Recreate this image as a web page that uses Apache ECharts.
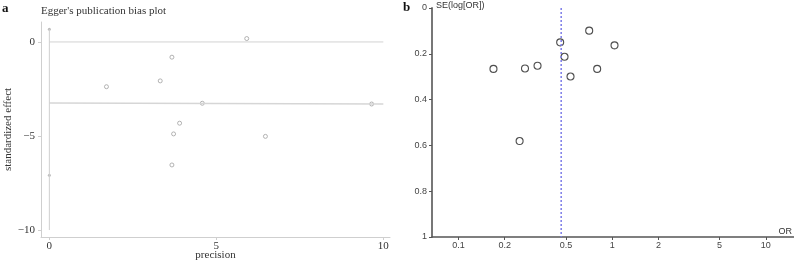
<!DOCTYPE html>
<html>
<head>
<meta charset="utf-8">
<script src="https://cdn.jsdelivr.net/npm/echarts@6/dist/echarts.min.js"></script>
<style>
  html, body { margin: 0; padding: 0; background: #fff; }
  #chart { width: 794px; height: 261px; }
</style>
</head>
<body>
<div id="chart"></div>
<script>
// panel a: Egger's plot (precision vs standardized effect)
var eggerPrecision = [5.91, 3.67, 3.32, 1.71, 4.58, 9.65, 3.90, 3.72, 6.47, 3.67];
var eggerEffect = [0.18, -0.81, -2.07, -2.38, -3.26, -3.30, -4.32, -4.89, -5.02, -6.54];
var interceptMarks = [0.68, -7.09];
var interceptLine = [0.68, -10];
var regressionEnds = [-3.24, -3.30];
var eggerXTicks = [0, 5, 10];
var eggerYTicks = [0, -5, -10];

// panel b: funnel plot (OR vs SE(log[OR]))
var studyOR = [0.709, 0.459, 1.036, 0.490, 0.169, 0.271, 0.327, 0.799, 0.536, 0.250];
var studySE = [0.099, 0.150, 0.163, 0.213, 0.266, 0.264, 0.252, 0.266, 0.299, 0.581];
var pooledOR = 0.466;
var orTicks = [0.1, 0.2, 0.5, 1, 2, 5, 10];

var serif = '"Liberation Serif", "Times New Roman", serif';
var sans = '"Liberation Sans", Arial, sans-serif';

var eggerPoints = [];
for (var i = 0; i < eggerPrecision.length; i++) {
    eggerPoints.push([eggerPrecision[i], eggerEffect[i]]);
}
var funnelPoints = [];
for (var j = 0; j < studyOR.length; j++) {
    funnelPoints.push([studyOR[j], studySE[j]]);
}

function minusSign(v) {
    return String(v).replace('-', '\u2212');
}

var chart = echarts.init(document.getElementById('chart'));

var options = {
    animation: false,
    title: [
        { text: 'a', left: 2, top: 2, padding: 0, textStyle: { fontFamily: serif, fontSize: 13, fontWeight: 'bold', color: '#111' } },
        { text: "Egger's publication bias plot", left: 41, top: 6, padding: 0, textStyle: { fontFamily: serif, fontSize: 11, fontWeight: 'normal', color: '#333' } },
        { text: 'b', left: 403, top: 1, padding: 0, textStyle: { fontFamily: serif, fontSize: 13, fontWeight: 'bold', color: '#111' } },
        { text: 'SE(log[OR])', left: 436, top: 1, padding: 0, textStyle: { fontFamily: sans, fontSize: 9, fontWeight: 'normal', color: '#333' } }
    ],
    grid: [
        { left: 41, top: 22, width: 349, bottom: 24, outerBoundsMode: 'none', containLabel: false },
        { left: 432, top: 8, right: 0, bottom: 24, outerBoundsMode: 'none', containLabel: false }
    ],
    xAxis: [
        {
            gridIndex: 0,
            type: 'value',
            position: 'bottom',
            min: -0.25,
            max: 10.2,
            name: 'precision',
            nameLocation: 'middle',
            nameGap: 13,
            nameMoveOverlap: false,
            nameTextStyle: { fontFamily: serif, fontSize: 11, color: '#333' },
            axisLine: { onZero: false, lineStyle: { color: '#cfcfcf', width: 1 } },
            axisTick: { show: true, length: 3, lineStyle: { color: '#cfcfcf' }, customValues: eggerXTicks },
            axisLabel: { fontFamily: serif, fontSize: 11, color: '#333', margin: 4, customValues: eggerXTicks },
            splitLine: { show: false }
        },
        {
            gridIndex: 1,
            type: 'log',
            logBase: 10,
            position: 'bottom',
            min: 0.0673,
            max: 15.24,
            name: 'OR',
            nameLocation: 'end',
            nameGap: -2,
            nameTextStyle: { fontFamily: sans, fontSize: 9, color: '#333', align: 'right', verticalAlign: 'bottom', padding: [0, 0, 1, 0] },
            axisLine: { onZero: false, lineStyle: { color: '#555', width: 1.5 } },
            axisTick: { show: true, inside: false, length: 3, lineStyle: { color: '#555' }, customValues: orTicks },
            axisLabel: { fontFamily: sans, fontSize: 9, color: '#444', margin: 4, customValues: orTicks },
            splitLine: { show: false }
        }
    ],
    yAxis: [
        {
            gridIndex: 0,
            type: 'value',
            position: 'left',
            min: -10.37,
            max: 1.06,
            name: 'standardized effect',
            nameLocation: 'middle',
            nameGap: 27,
            nameTextStyle: { fontFamily: serif, fontSize: 11, color: '#333' },
            axisLine: { show: true, onZero: false, lineStyle: { color: '#cfcfcf', width: 1 } },
            axisTick: { show: true, length: 3, lineStyle: { color: '#cfcfcf' }, customValues: eggerYTicks },
            axisLabel: { fontFamily: serif, fontSize: 11, color: '#333', margin: 6, customValues: eggerYTicks, formatter: minusSign },
            splitLine: { show: false }
        },
        {
            gridIndex: 1,
            type: 'value',
            position: 'left',
            inverse: true,
            min: 0,
            max: 1,
            interval: 0.2,
            axisLine: { show: true, onZero: false, lineStyle: { color: '#777', width: 2 } },
            axisTick: { show: true, length: 3, lineStyle: { color: '#555' } },
            axisLabel: { fontFamily: sans, fontSize: 9, color: '#444', margin: 5 },
            splitLine: { show: false }
        }
    ],
    series: [
        {
            name: 'zero',
            type: 'line',
            xAxisIndex: 0,
            yAxisIndex: 0,
            data: [[eggerXTicks[0], 0], [eggerXTicks[2], 0]],
            symbol: 'none',
            lineStyle: { color: '#d2d2d2', width: 1 },
            silent: true
        },
        {
            name: 'regression',
            type: 'line',
            xAxisIndex: 0,
            yAxisIndex: 0,
            data: [[eggerXTicks[0], regressionEnds[0]], [eggerXTicks[2], regressionEnds[1]]],
            symbol: 'none',
            lineStyle: { color: '#d6d6d6', width: 1.5 },
            silent: true
        },
        {
            name: 'intercept CI',
            type: 'line',
            xAxisIndex: 0,
            yAxisIndex: 0,
            data: [[0, interceptLine[0]], [0, interceptLine[1]]],
            symbol: 'none',
            lineStyle: { color: '#cfcfcf', width: 1 },
            silent: true
        },
        {
            name: 'intercept',
            type: 'scatter',
            xAxisIndex: 0,
            yAxisIndex: 0,
            data: [[0, interceptMarks[0]], [0, interceptMarks[1]]],
            symbol: 'circle',
            symbolSize: 3,
            itemStyle: { color: '#aaa' }
        },
        {
            name: 'studies',
            type: 'scatter',
            xAxisIndex: 0,
            yAxisIndex: 0,
            data: eggerPoints,
            symbol: 'circle',
            symbolSize: 4,
            itemStyle: { color: '#fff', borderColor: '#a0a0a0', borderWidth: 1 }
        },
        {
            name: 'pooled',
            type: 'line',
            xAxisIndex: 1,
            yAxisIndex: 1,
            data: [[pooledOR, 0], [pooledOR, 1]],
            symbol: 'none',
            lineStyle: { color: '#7b7be8', width: 1.5, type: [2, 2] },
            silent: true
        },
        {
            name: 'funnel',
            type: 'scatter',
            xAxisIndex: 1,
            yAxisIndex: 1,
            data: funnelPoints,
            symbol: 'circle',
            symbolSize: 7,
            itemStyle: { color: 'rgba(255,255,255,0)', borderColor: '#222', borderWidth: 1.1 }
        }
    ]
};

chart.setOption(options);
</script>
</body>
</html>
